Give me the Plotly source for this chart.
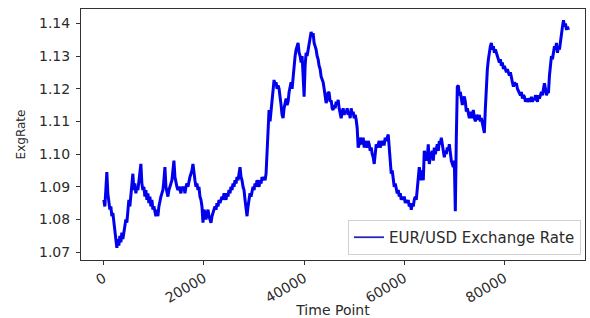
import numpy as np
import plotly.graph_objects as go

# EUR/USD exchange rate (one reading every 200 time points)
rate = [
    1.086, 1.084, 1.089, 1.0945, 1.088, 1.085, 1.083, 1.084, 1.081, 1.082,
    1.079, 1.077, 1.074, 1.0713, 1.074, 1.072, 1.075, 1.073, 1.076, 1.074,
    1.076, 1.078, 1.080, 1.079, 1.083, 1.086, 1.084, 1.088, 1.090, 1.094,
    1.089, 1.091, 1.088, 1.090, 1.089, 1.092, 1.093, 1.097, 1.091, 1.089,
    1.090, 1.087, 1.089, 1.086, 1.088, 1.085, 1.087, 1.084, 1.086, 1.083,
    1.084, 1.082, 1.081, 1.083, 1.081, 1.084, 1.086, 1.087, 1.088, 1.089,
    1.092, 1.096, 1.090, 1.088, 1.087, 1.089, 1.090, 1.091, 1.092, 1.095,
    1.098, 1.093, 1.091, 1.090, 1.089, 1.090, 1.089, 1.088, 1.090, 1.089,
    1.090, 1.088, 1.090, 1.091, 1.090, 1.092, 1.093, 1.094, 1.095, 1.097,
    1.093, 1.092, 1.090, 1.091, 1.089, 1.090, 1.087, 1.086, 1.084, 1.079,
    1.083, 1.082, 1.080, 1.082, 1.083, 1.081, 1.080, 1.079, 1.081, 1.082,
    1.083, 1.084, 1.083, 1.085, 1.084, 1.086, 1.085, 1.086, 1.087, 1.086,
    1.088, 1.087, 1.086, 1.088, 1.087, 1.089, 1.088, 1.090, 1.089, 1.091,
    1.090, 1.092, 1.091, 1.093, 1.092, 1.094, 1.096, 1.093, 1.092, 1.090,
    1.089, 1.086, 1.083, 1.081, 1.084, 1.086, 1.088, 1.087, 1.089, 1.090,
    1.089, 1.091, 1.090, 1.092, 1.091, 1.090, 1.092, 1.091, 1.093, 1.092,
    1.093, 1.092, 1.094, 1.102, 1.107, 1.1135, 1.110, 1.113, 1.117, 1.120,
    1.1227, 1.121, 1.122, 1.120, 1.121, 1.120, 1.118, 1.115, 1.112, 1.111,
    1.114, 1.116, 1.117, 1.115, 1.116, 1.119, 1.121, 1.122, 1.120, 1.124,
    1.127, 1.130, 1.132, 1.133, 1.134, 1.131, 1.130, 1.128, 1.130, 1.124,
    1.1176, 1.127, 1.131, 1.130, 1.132, 1.134, 1.135, 1.1374, 1.136, 1.137,
    1.134, 1.133, 1.132, 1.130, 1.129, 1.127, 1.126, 1.1237, 1.123, 1.122,
    1.120, 1.118, 1.1156, 1.117, 1.119, 1.1187, 1.116, 1.1165, 1.114, 1.1135,
    1.115, 1.114, 1.116, 1.115, 1.1166, 1.114, 1.112, 1.111, 1.113, 1.114,
    1.112, 1.113, 1.1125, 1.114, 1.112, 1.113, 1.111, 1.114, 1.112, 1.113,
    1.111, 1.112, 1.1105, 1.108, 1.102, 1.103, 1.105, 1.104, 1.103, 1.105,
    1.102, 1.104, 1.103, 1.102, 1.104, 1.103, 1.101, 1.102, 1.100, 1.099,
    1.097, 1.101, 1.103, 1.102, 1.103, 1.104, 1.102, 1.103, 1.104, 1.103,
    1.103, 1.105, 1.104, 1.105, 1.106, 1.102, 1.096, 1.094, 1.095, 1.092,
    1.090, 1.091, 1.089, 1.088, 1.089, 1.087, 1.088, 1.086, 1.087, 1.086,
    1.087, 1.085, 1.086, 1.085, 1.086, 1.084, 1.085, 1.083, 1.085, 1.084,
    1.086, 1.087, 1.086, 1.090, 1.093, 1.096, 1.094, 1.092, 1.095, 1.092,
    1.101, 1.100, 1.098, 1.099, 1.103, 1.097, 1.099, 1.100, 1.101, 1.098,
    1.102, 1.100, 1.102, 1.103, 1.101, 1.104, 1.103, 1.105, 1.103, 1.101,
    1.099, 1.101, 1.100, 1.102, 1.101, 1.103, 1.100, 1.098, 1.097, 1.096,
    1.098, 1.0825, 1.105, 1.1206, 1.121, 1.118, 1.119, 1.1166, 1.115, 1.117,
    1.1176, 1.116, 1.113, 1.114, 1.1125, 1.111, 1.113, 1.111, 1.112, 1.1135,
    1.111, 1.110, 1.112, 1.111, 1.1105, 1.112, 1.110, 1.111, 1.109, 1.108,
    1.1065, 1.114, 1.1227, 1.126, 1.129, 1.132, 1.133, 1.134, 1.132, 1.133,
    1.131, 1.132, 1.131, 1.130, 1.129, 1.128, 1.129, 1.127, 1.128, 1.126,
    1.127, 1.126, 1.125, 1.126, 1.1248, 1.124, 1.125, 1.123, 1.122, 1.1206,
    1.122, 1.121, 1.1217, 1.120, 1.119, 1.1187, 1.118, 1.119, 1.117, 1.118,
    1.1176, 1.116, 1.117, 1.116, 1.1166, 1.117, 1.116, 1.1175, 1.116, 1.117,
    1.1165, 1.118, 1.117, 1.116, 1.118, 1.117, 1.118, 1.119, 1.118, 1.120,
    1.1217, 1.120, 1.118, 1.119, 1.1187, 1.124, 1.128, 1.130, 1.129, 1.131,
    1.133, 1.132, 1.134, 1.131, 1.133, 1.132, 1.135, 1.137, 1.139, 1.141,
    1.139, 1.140, 1.138, 1.139, 1.138,
]
time_step = 200
time_point = np.arange(len(rate)) * time_step

x_ticks = [0, 20000, 40000, 60000, 80000]
y_ticks = [1.07, 1.08, 1.09, 1.10, 1.11, 1.12, 1.13, 1.14]

series_name = "EUR/USD Exchange Rate"
x_title = "Time Point"
y_title = "ExgRate"

LINE_COLOR = "#0000ee"
TEXT_COLOR = "#2a2a2a"
FONT = "DejaVu Sans"

fig = go.Figure()
fig.add_trace(go.Scatter(
    x=time_point, y=rate, mode="lines", name=series_name, showlegend=False,
    line=dict(color=LINE_COLOR, width=3),
))
# legend entry drawn with the thinner line used in the reference's legend
fig.add_trace(go.Scatter(
    x=[None], y=[None], mode="lines", name=series_name, showlegend=True,
    line=dict(color="#2626b8", width=1.8),
))

axis_common = dict(
    showline=True, linecolor="#333333", linewidth=1, mirror=True,
    ticks="outside", ticklen=4, tickwidth=1, tickcolor="#333333",
    showgrid=False, zeroline=False,
    tickfont=dict(family=FONT, size=14, color=TEXT_COLOR),
)

fig.update_layout(
    width=590, height=318,
    margin=dict(l=81, r=5, t=9, b=58),
    paper_bgcolor="white", plot_bgcolor="white",
    font=dict(family=FONT, size=14, color=TEXT_COLOR),
    showlegend=True,
    legend=dict(
        x=0.992, y=0.02, xanchor="right", yanchor="bottom",
        bgcolor="rgba(255,255,255,0.85)", bordercolor="#d0d0d0", borderwidth=1,
        font=dict(family=FONT, size=15, color=TEXT_COLOR),
        itemwidth=30, tracegroupgap=0,
    ),
    xaxis=dict(
        range=[-4560, 96100], tickvals=x_ticks, ticktext=[str(v) for v in x_ticks],
        tickangle=-30, automargin=False,
        title=dict(text=x_title, font=dict(size=14), standoff=2),
        **axis_common,
    ),
    yaxis=dict(
        range=[1.0676, 1.1444], tickvals=y_ticks, tickformat=".2f",
        automargin=False, ticklabelstandoff=3,
        title=dict(text=y_title, font=dict(size=12), standoff=10),
        **axis_common,
    ),
)

fig.write_html(
    "out.html",
    config={"displayModeBar": False},
    post_script="document.body.style.margin='0';document.body.style.padding='0';",
)
